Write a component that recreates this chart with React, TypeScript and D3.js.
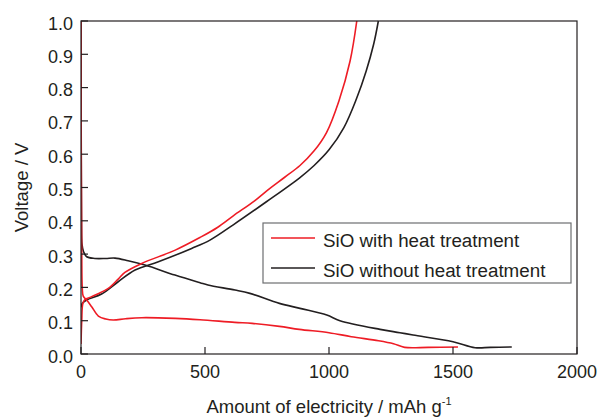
import React from "react";
import * as d3 from "d3";

// capacity (mAh/g) and voltage (V)
const redDischarge: [number, number][] = [
  [0, 1.0], [1, 0.6], [3, 0.3], [5, 0.2], [9, 0.174], [23, 0.162], [43, 0.142],
  [70, 0.114], [100, 0.105], [130, 0.102], [180, 0.106], [245, 0.109], [380, 0.107],
  [480, 0.103], [620, 0.095], [690, 0.092], [800, 0.083], [880, 0.074], [1000, 0.064],
  [1090, 0.052], [1200, 0.04], [1260, 0.031], [1305, 0.02], [1400, 0.02], [1520, 0.021],
];

const redCharge: [number, number][] = [
  [0, 0.03], [3, 0.1], [7, 0.15], [15, 0.163], [30, 0.168], [60, 0.178], [110, 0.197],
  [150, 0.225], [177, 0.245], [245, 0.272], [380, 0.312], [480, 0.35], [550, 0.38],
  [614, 0.415], [700, 0.46], [749, 0.49], [820, 0.53], [883, 0.566], [940, 0.61],
  [990, 0.665], [1040, 0.76], [1085, 0.88], [1112, 1.0],
];

const blackDischarge: [number, number][] = [
  [0, 1.0], [1, 0.6], [2, 0.4], [4, 0.33], [10, 0.308], [23, 0.292], [56, 0.287],
  [100, 0.287], [137, 0.288], [190, 0.28], [258, 0.267], [379, 0.237], [480, 0.214],
  [512, 0.207], [621, 0.192], [681, 0.182], [800, 0.152], [883, 0.137], [991, 0.117],
  [1044, 0.1], [1206, 0.074], [1286, 0.064], [1339, 0.057], [1500, 0.037], [1589, 0.019],
  [1650, 0.02], [1737, 0.021],
];

const blackCharge: [number, number][] = [
  [0, 0.14], [5, 0.152], [23, 0.162], [83, 0.18], [150, 0.217], [218, 0.252],
  [312, 0.277], [446, 0.317], [520, 0.342], [614, 0.388], [749, 0.458], [883, 0.53],
  [940, 0.566], [1000, 0.613], [1060, 0.68], [1110, 0.765], [1150, 0.85], [1180, 0.93],
  [1199, 1.0],
];

const xTicks = [0, 500, 1000, 1500, 2000];
const yTicks = [0, 0.1, 0.2, 0.3, 0.4, 0.5, 0.6, 0.7, 0.8, 0.9, 1.0];
const legendLabels = ["SiO with heat treatment", "SiO without heat treatment"];

const RED = "#ee1c25";
const INK = "#231f20";
const FONT = "'Liberation Sans', Arial, sans-serif";

export default function App() {
  const left = 81, right = 577, top = 21, bottom = 354;
  const x = d3.scaleLinear().domain([0, 2000]).range([left, right]);
  const y = d3.scaleLinear().domain([0, 1]).range([bottom, top]);

  const line = d3
    .line<[number, number]>()
    .x((d) => x(d[0]))
    .y((d) => y(d[1]))
    .curve(d3.curveCatmullRom.alpha(0.5));

  const series = [
    { data: blackDischarge, color: INK },
    { data: blackCharge, color: INK },
    { data: redDischarge, color: RED },
    { data: redCharge, color: RED },
  ];

  return (
    <svg
      width={601}
      height={417}
      style={{ position: "absolute", left: 0, top: 0, background: "#fff" }}
      fontFamily={FONT}
    >
      <defs>
        <clipPath id="plot">
          <rect x={left} y={top - 1} width={right - left} height={bottom - top + 2} />
        </clipPath>
      </defs>

      {/* curves */}
      <g clipPath="url(#plot)">
        {series.map((s, i) => (
          <path key={i} d={line(s.data) || ""} fill="none" stroke={s.color} strokeWidth={1.6} />
        ))}
      </g>

      {/* frame */}
      <rect x={left} y={top} width={right - left} height={bottom - top} fill="none" stroke={INK} strokeWidth={1.2} />

      {/* y ticks */}
      {yTicks.map((t) => (
        <g key={t}>
          <line x1={left} x2={left + 7} y1={y(t)} y2={y(t)} stroke={INK} strokeWidth={1.2} />
          <text x={73} y={y(t) + 8.5} textAnchor="end" fontSize={18} fill={INK}>
            {t.toFixed(1)}
          </text>
        </g>
      ))}

      {/* x ticks */}
      {xTicks.map((t) => (
        <g key={t}>
          <line x1={x(t)} x2={x(t)} y1={bottom} y2={bottom - 7} stroke={INK} strokeWidth={1.2} />
          <text x={x(t)} y={378} textAnchor="middle" fontSize={18} fill={INK}>
            {t}
          </text>
        </g>
      ))}

      {/* axis titles */}
      <text x={(left + right) / 2} y={413} textAnchor="middle" fontSize={18.5} fill={INK}>
        Amount of electricity / mAh g
        <tspan fontSize={11} dy={-8}>-1</tspan>
      </text>
      <text
        transform={`translate(28,${(top + bottom) / 2}) rotate(-90)`}
        textAnchor="middle"
        fontSize={18.5}
        fill={INK}
      >
        Voltage / V
      </text>

      {/* legend */}
      <rect x={263} y={223} width={308} height={60} fill="#fff" stroke="#6d6e71" strokeWidth={1.2} />
      {legendLabels.map((label, i) => (
        <g key={label} transform={`translate(0,${i * 30})`}>
          <line x1={271} x2={315} y1={238} y2={238} stroke={i === 0 ? RED : INK} strokeWidth={1.7} />
          <text x={323} y={246.5} fontSize={18.8} fill={INK}>
            {label}
          </text>
        </g>
      ))}
    </svg>
  );
}
